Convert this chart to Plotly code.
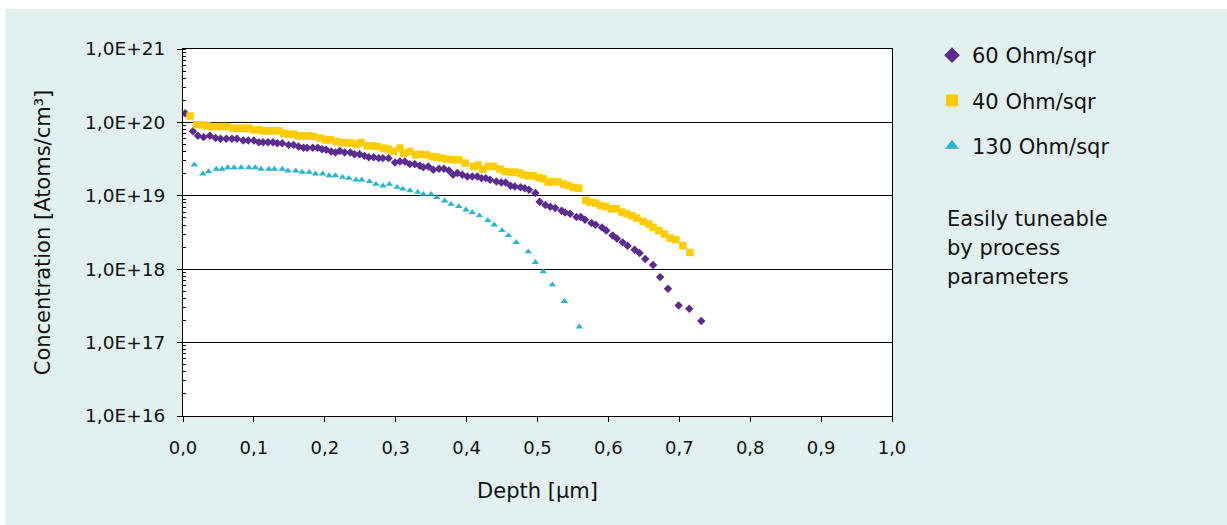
import plotly.graph_objects as go

# ---------------- data ----------------
depth_60 = [0.003, 0.014, 0.021, 0.029, 0.038, 0.046, 0.053, 0.061, 0.069, 0.076,
            0.085, 0.092, 0.100, 0.107, 0.113, 0.120, 0.127, 0.133, 0.140, 0.149,
            0.156, 0.163, 0.170, 0.175, 0.183, 0.190, 0.196, 0.202, 0.209, 0.215,
            0.221, 0.228, 0.236, 0.242, 0.249, 0.256, 0.262, 0.269, 0.276, 0.282,
            0.290, 0.299, 0.306, 0.313, 0.320, 0.327, 0.334, 0.339, 0.346, 0.353,
            0.361, 0.368, 0.375, 0.381, 0.387, 0.394, 0.401, 0.408, 0.415, 0.421,
            0.427, 0.433, 0.442, 0.449, 0.455, 0.462, 0.468, 0.476, 0.482, 0.488,
            0.497, 0.503, 0.511, 0.518, 0.525, 0.534, 0.539, 0.546, 0.555, 0.561,
            0.567, 0.576, 0.582, 0.591, 0.597, 0.606, 0.612, 0.620, 0.627, 0.637,
            0.644, 0.652, 0.663, 0.673, 0.684, 0.699, 0.714, 0.731]
conc_60 = [1.33e20, 7.6e19, 6.6e19, 6.3e19, 6.6e19, 6.15e19, 5.97e19, 5.97e19, 5.97e19, 5.97e19,
           5.65e19, 5.65e19, 5.65e19, 5.38e19, 5.38e19, 5.38e19, 5.38e19, 5.21e19, 5.21e19, 4.94e19,
           4.94e19, 4.69e19, 4.50e19, 4.50e19, 4.50e19, 4.50e19, 4.32e19, 4.23e19, 4.01e19, 3.88e19,
           4.09e19, 3.88e19, 3.88e19, 3.69e19, 3.69e19, 3.50e19, 3.36e19, 3.36e19, 3.26e19, 3.26e19,
           3.26e19, 2.84e19, 2.93e19, 2.93e19, 2.70e19, 2.70e19, 2.56e19, 2.45e19, 2.50e19, 2.26e19,
           2.33e19, 2.33e19, 2.21e19, 1.93e19, 2.04e19, 1.93e19, 1.83e19, 1.83e19, 1.83e19, 1.74e19,
           1.74e19, 1.65e19, 1.57e19, 1.52e19, 1.52e19, 1.37e19, 1.34e19, 1.31e19, 1.27e19, 1.21e19,
           1.09e19, 8.3e18, 7.5e18, 7.1e18, 6.8e18, 6.25e18, 5.93e18, 5.69e18, 5.13e18, 5.13e18,
           4.71e18, 4.26e18, 4.03e18, 3.71e18, 3.37e18, 2.88e18, 2.62e18, 2.32e18, 2.09e18, 1.84e18,
           1.66e18, 1.38e18, 1.14e18, 7.8e17, 5.4e17, 3.2e17, 2.9e17, 1.97e17]

depth_40 = [0.010, 0.019, 0.027, 0.034, 0.041, 0.048, 0.055, 0.062, 0.071, 0.078,
            0.085, 0.093, 0.100, 0.107, 0.114, 0.121, 0.128, 0.135, 0.142, 0.149,
            0.156, 0.163, 0.170, 0.177, 0.184, 0.194, 0.201, 0.208, 0.217, 0.224,
            0.231, 0.238, 0.245, 0.251, 0.260, 0.267, 0.274, 0.283, 0.290, 0.297,
            0.306, 0.311, 0.320, 0.328, 0.335, 0.343, 0.351, 0.358, 0.365, 0.373,
            0.381, 0.389, 0.398, 0.410, 0.416, 0.423, 0.431, 0.438, 0.447, 0.454,
            0.462, 0.468, 0.475, 0.480, 0.487, 0.494, 0.502, 0.508, 0.515, 0.522,
            0.529, 0.537, 0.544, 0.551, 0.558, 0.568, 0.574, 0.582, 0.589, 0.596,
            0.604, 0.611, 0.619, 0.626, 0.633, 0.640, 0.649, 0.657, 0.663, 0.671,
            0.679, 0.687, 0.695, 0.705, 0.715]
conc_40 = [1.22e20, 9.3e19, 9.25e19, 8.96e19, 8.77e19, 8.77e19, 8.77e19, 8.77e19, 8.34e19, 8.34e19,
           8.34e19, 8.34e19, 7.91e19, 7.91e19, 7.66e19, 7.66e19, 7.66e19, 7.66e19, 7.13e19, 6.91e19,
           6.91e19, 6.55e19, 6.55e19, 6.55e19, 6.41e19, 6.10e19, 5.78e19, 5.78e19, 5.48e19, 5.31e19,
           5.31e19, 5.21e19, 5.05e19, 5.31e19, 4.79e19, 4.79e19, 4.69e19, 4.46e19, 4.32e19, 4.01e19,
           4.46e19, 3.81e19, 4.01e19, 3.61e19, 3.69e19, 3.61e19, 3.43e19, 3.36e19, 3.26e19, 3.16e19,
           3.09e19, 3.09e19, 2.79e19, 2.51e19, 2.62e19, 2.31e19, 2.51e19, 2.51e19, 2.31e19, 2.14e19,
           2.10e19, 2.10e19, 2.04e19, 1.93e19, 1.87e19, 1.87e19, 1.77e19, 1.70e19, 1.54e19, 1.56e19,
           1.54e19, 1.44e19, 1.38e19, 1.30e19, 1.27e19, 8.7e18, 8.2e18, 7.96e18, 7.38e18, 7.15e18,
           6.65e18, 6.65e18, 6.0e18, 5.69e18, 5.35e18, 4.97e18, 4.47e18, 4.12e18, 3.71e18, 3.34e18,
           3.01e18, 2.65e18, 2.52e18, 2.09e18, 1.69e18]

depth_130 = [0.016, 0.028, 0.036, 0.047, 0.055, 0.063, 0.072, 0.082, 0.093, 0.102,
             0.110, 0.121, 0.129, 0.140, 0.148, 0.159, 0.168, 0.178, 0.187, 0.197,
             0.206, 0.215, 0.225, 0.234, 0.244, 0.252, 0.263, 0.272, 0.282, 0.291,
             0.302, 0.310, 0.320, 0.331, 0.339, 0.350, 0.358, 0.369, 0.378, 0.389,
             0.399, 0.408, 0.418, 0.430, 0.439, 0.450, 0.459, 0.470, 0.487, 0.497,
             0.508, 0.521, 0.538, 0.559]
conc_130 = [2.64e19, 1.99e19, 2.14e19, 2.31e19, 2.31e19, 2.43e19, 2.43e19, 2.43e19, 2.43e19, 2.43e19,
            2.31e19, 2.31e19, 2.31e19, 2.31e19, 2.19e19, 2.19e19, 2.10e19, 2.10e19, 1.99e19, 1.99e19,
            1.89e19, 1.89e19, 1.79e19, 1.74e19, 1.65e19, 1.65e19, 1.57e19, 1.44e19, 1.37e19, 1.44e19,
            1.31e19, 1.24e19, 1.18e19, 1.12e19, 1.05e19, 1.05e19, 9.5e18, 8.55e18, 7.7e18, 7.15e18,
            6.45e18, 5.93e18, 5.35e18, 4.61e18, 4.03e18, 3.37e18, 2.88e18, 2.32e18, 1.73e18, 1.24e18,
            9.3e17, 6.15e17, 3.65e17, 1.64e17]

series_names = ["60 Ohm/sqr", "40 Ohm/sqr", "130 Ohm/sqr"]

x_tick_vals = [0.0, 0.1, 0.2, 0.3, 0.4, 0.5, 0.6, 0.7, 0.8, 0.9, 1.0]
x_tick_text = ["0,0", "0,1", "0,2", "0,3", "0,4", "0,5", "0,6", "0,7", "0,8", "0,9", "1,0"]
y_tick_vals = [1e16, 1e17, 1e18, 1e19, 1e20, 1e21]
y_tick_text = ["1,0E+16", "1,0E+17", "1,0E+18", "1,0E+19", "1,0E+20", "1,0E+21"]

note_lines = ["Easily tuneable", "by process", "parameters"]

x_title = "Depth [µm]"
y_title = "Concentration [Atoms/cm³]"

# ---------------- styling ----------------
TEAL = "#E2F0F0"
PURPLE = "#5B2C8F"
YELLOW = "#FFCC00"
CYAN = "#2BB5CD"
TXT = "#111111"
FONT = "DejaVu Sans"

W, H = 1227, 525
ML, MR, MT, MB = 183, 335, 49, 109
PW = W - ML - MR
PH = H - MT - MB


def px_x(px):
    return (px - ML) / PW


def px_y(py):
    return (H - MB - py) / PH


fig = go.Figure()

styles = [
    (depth_60, conc_60, dict(symbol="diamond", size=6.5, color=PURPLE)),
    (depth_40, conc_40, dict(symbol="square", size=7.5, color=YELLOW)),
    (depth_130, conc_130, dict(symbol="triangle-up", size=6.5, color=CYAN)),
]
for name, (xs, ys, mk) in zip(series_names, styles):
    fig.add_trace(go.Scatter(
        x=xs, y=ys, mode="markers", name=name, legendgroup=name,
        marker=dict(symbol=mk["symbol"], size=mk["size"], color=mk["color"],
                    line=dict(width=0)),
    ))

fig.update_layout(
    width=W, height=H,
    margin=dict(l=ML, r=MR, t=MT, b=MB, pad=0),
    paper_bgcolor=TEAL,
    plot_bgcolor="white",
    font=dict(family=FONT, size=18, color=TXT),
    showlegend=True,
    legend=dict(
        x=px_x(932), y=px_y(35), xanchor="left", yanchor="top",
        font=dict(family=FONT, size=21, color=TXT),
        itemsizing="constant", tracegroupgap=15,
        bgcolor="rgba(0,0,0,0)", borderwidth=0,
    ),
)

fig.update_xaxes(
    range=[0, 1],
    tickmode="array", tickvals=x_tick_vals, ticktext=x_tick_text,
    ticks="outside", ticklen=5, tickwidth=1, tickcolor="black",
    ticklabelstandoff=10,
    showline=True, linecolor="black", linewidth=1.2, mirror=True,
    showgrid=False, zeroline=False,
    title=dict(text=x_title, font=dict(family=FONT, size=21, color=TXT), standoff=26),
)

fig.update_yaxes(
    type="log", range=[16, 21],
    tickmode="array", tickvals=y_tick_vals, ticktext=y_tick_text,
    tickfont=dict(family=FONT, size=18.5, color=TXT),
    ticks="outside", ticklen=5, tickwidth=1, tickcolor="black",
    ticklabelstandoff=8,
    minor=dict(ticks="inside", ticklen=3, tickwidth=1, tickcolor="black",
               dtick="D1", showgrid=False),
    showline=True, linecolor="black", linewidth=1.2, mirror=True,
    showgrid=True, gridcolor="black", gridwidth=1.2,
    zeroline=False,
    title=dict(text=y_title, font=dict(family=FONT, size=21, color=TXT), standoff=28),
)

# thin white border on the top and left edges of the picture
fig.add_shape(type="rect", xref="paper", yref="paper",
              x0=px_x(-20), x1=px_x(W + 20), y0=px_y(9), y1=px_y(-20),
              fillcolor="white", line=dict(width=0), layer="below")
fig.add_shape(type="rect", xref="paper", yref="paper",
              x0=px_x(-20), x1=px_x(5), y0=px_y(H + 20), y1=px_y(-20),
              fillcolor="white", line=dict(width=0), layer="below")

for i, line in enumerate(note_lines):
    fig.add_annotation(
        text=line, xref="paper", yref="paper",
        x=px_x(945), y=px_y(219 + 29 * i),
        xanchor="left", yanchor="middle", showarrow=False,
        font=dict(family=FONT, size=21, color=TXT),
    )

# remove the browser's default page margin so the figure sits at the top-left corner
fig.write_html("out.html", config={"displayModeBar": False},
               post_script="document.body.style.margin='0';")
